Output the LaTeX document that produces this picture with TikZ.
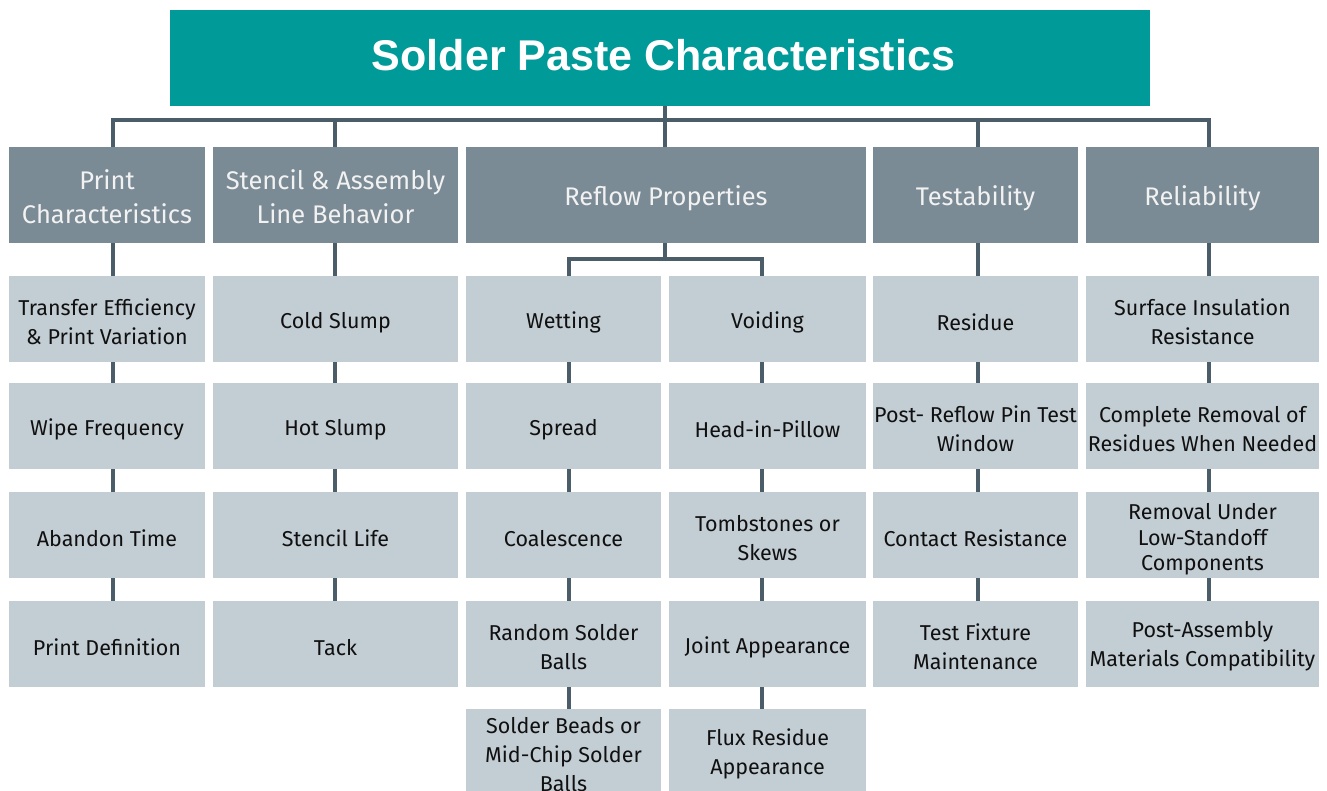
\documentclass[tikz,border=0pt]{standalone}
\usepackage{fontspec}
\newfontfamily\boxfont{Fira Sans}
\newfontfamily\titlefont{Liberation Sans}
\definecolor{teal}{HTML}{009A99}
\definecolor{hdrgray}{HTML}{7B8B95}
\definecolor{leafgray}{HTML}{C3CDD4}
\definecolor{linkcol}{HTML}{4B5D68}
\definecolor{leaftext}{HTML}{101010}
% taller first line, to sit multi-line labels a little lower in their boxes
\newcommand\firstlift[1]{\rule{0pt}{#1}}
\begin{document}
\begin{tikzpicture}[x=1pt,y=-1pt,
  titlebox/.style={fill=teal, text=white, minimum width=980pt, minimum height=96pt,
    inner sep=0pt, font=\titlefont\bfseries\fontsize{43}{50}\selectfont},
  headbox/.style={fill=hdrgray, text=white!95!black, minimum height=96pt, inner sep=0pt,
    align=center, font=\boxfont\fontsize{25.5}{34}\selectfont,
    execute at begin node={\rule{0pt}{1.05em}}},
  leafbox/.style={fill=leafgray, text=leaftext, minimum height=86pt, inner sep=0pt,
    align=center, font=\boxfont\fontsize{21.5}{29}\selectfont,
    execute at begin node={\rule{0pt}{1.1em}}},
  tight/.style={font=\boxfont\fontsize{21.5}{25.5}\selectfont},
  link/.style={draw=linkcol, line width=4.5pt},
  colA/.style={minimum width=196pt},
  colB/.style={minimum width=245pt},
  colW/.style={minimum width=195pt},
  colV/.style={minimum width=197pt},
  colR/.style={minimum width=400pt},
  colT/.style={minimum width=205pt},
  colL/.style={minimum width=233pt}]
\useasboundingbox (0,0) rectangle (1327,790);
\clip (0,0) rectangle (1327,790);

% connector columns and bus levels
\coordinate (k1) at (113,0);
\coordinate (k2) at (335,0);
\coordinate (k3) at (665,0);
\coordinate (k4) at (978,0);
\coordinate (k5) at (1209,0);
\coordinate (ka) at (569,0);
\coordinate (kb) at (762,0);
\coordinate (bus) at (0,120);
\coordinate (fork) at (0,259);

% title
\node[titlebox] (title) at (660,58) {\raisebox{6pt}{Solder Paste Characteristics}\hspace*{-7pt}};

% category headers
\node[headbox,colA] (h1) at (107,195) {\firstlift{0.9em}Print\\Characteristics};
\node[headbox,colB] (h2) at (335.5,195) {\firstlift{0.9em}Stencil \& Assembly\\Line Behavior};
\node[headbox,colR] (h3) at (666,195) {Reflow Properties};
\node[headbox,colT] (h4) at (975.5,195) {Testability};
\node[headbox,colL] (h5) at (1202.5,195) {Reliability};

% print characteristics
\node[leafbox,colA] (a1) at (107,319) {\firstlift{1em}Transfer Efficiency\\\& Print Variation};
\node[leafbox,colA] (a2) at (107,426) {Wipe Frequency};
\node[leafbox,colA] (a3) at (107,535) {Abandon Time};
\node[leafbox,colA] (a4) at (107,644) {Print Definition};

% stencil & assembly line behavior
\node[leafbox,colB] (b1) at (335.5,319) {Cold Slump};
\node[leafbox,colB] (b2) at (335.5,426) {Hot Slump};
\node[leafbox,colB] (b3) at (335.5,535) {Stencil Life};
\node[leafbox,colB] (b4) at (335.5,644) {Tack};

% reflow properties: wetting branch
\node[leafbox,colW] (w1) at (563.5,319) {Wetting};
\node[leafbox,colW] (w2) at (563.5,426) {Spread};
\node[leafbox,colW] (w3) at (563.5,535) {Coalescence};
\node[leafbox,colW] (w4) at (563.5,644) {\firstlift{1em}Random Solder\\Balls};
\node[leafbox,colW] (w5) at (563.5,752) {\firstlift{1em}Solder Beads or\\Mid-Chip Solder\\Balls};

% reflow properties: voiding branch
\node[leafbox,colV] (v1) at (767.5,319) {Voiding};
\node[leafbox,colV] (v2) at (767.5,426) {Head-in-Pillow};
\node[leafbox,colV] (v3) at (767.5,535) {\firstlift{1em}Tombstones or\\Skews};
\node[leafbox,colV] (v4) at (767.5,644) {Joint Appearance};
\node[leafbox,colV] (v5) at (767.5,752) {\firstlift{1em}Flux Residue\\Appearance};

% testability
\node[leafbox,colT] (t1) at (975.5,319) {Residue};
\node[leafbox,colT] (t2) at (975.5,426) {\firstlift{1em}Post- Reflow Pin Test\\Window};
\node[leafbox,colT] (t3) at (975.5,535) {Contact Resistance};
\node[leafbox,colT] (t4) at (975.5,644) {\firstlift{1em}Test Fixture\\Maintenance};

% reliability
\node[leafbox,colL] (r1) at (1202.5,319) {\firstlift{1em}Surface Insulation\\Resistance};
\node[leafbox,colL] (r2) at (1202.5,426) {\firstlift{1em}Complete Removal of\\Residues When Needed};
\node[leafbox,colL,tight] (r3) at (1202.5,535) {\firstlift{1.16em}Removal Under\\Low-Standoff\\Components};
\node[leafbox,colL] (r4) at (1202.5,644) {\firstlift{1em}Post-Assembly\\Materials Compatibility};

% title to headers
\draw[link] (title.south -| k3) -- (h3.north -| k3);
\draw[link] (h1.north -| k1) -- (bus -| k1) -- (bus -| k5) -- (h5.north -| k5);
\draw[link] (bus -| k2) -- (h2.north -| k2);
\draw[link] (bus -| k4) -- (h4.north -| k4);

% headers to first items
\draw[link] (h1.south -| k1) -- (a1.north -| k1);
\draw[link] (h2.south -| k2) -- (b1.north -| k2);
\draw[link] (h3.south -| k3) -- (fork -| k3);
\draw[link] (w1.north -| ka) -- (fork -| ka) -- (fork -| kb) -- (v1.north -| kb);
\draw[link] (h4.south -| k4) -- (t1.north -| k4);
\draw[link] (h5.south -| k5) -- (r1.north -| k5);

% chains within each column
\foreach \u/\v in {a1/a2,a2/a3,a3/a4}{\draw[link] (\u.south -| k1) -- (\v.north -| k1);}
\foreach \u/\v in {b1/b2,b2/b3,b3/b4}{\draw[link] (\u.south -| k2) -- (\v.north -| k2);}
\foreach \u/\v in {w1/w2,w2/w3,w3/w4,w4/w5}{\draw[link] (\u.south -| ka) -- (\v.north -| ka);}
\foreach \u/\v in {v1/v2,v2/v3,v3/v4,v4/v5}{\draw[link] (\u.south -| kb) -- (\v.north -| kb);}
\foreach \u/\v in {t1/t2,t2/t3,t3/t4}{\draw[link] (\u.south -| k4) -- (\v.north -| k4);}
\foreach \u/\v in {r1/r2,r2/r3,r3/r4}{\draw[link] (\u.south -| k5) -- (\v.north -| k5);}
\end{tikzpicture}
\end{document}
